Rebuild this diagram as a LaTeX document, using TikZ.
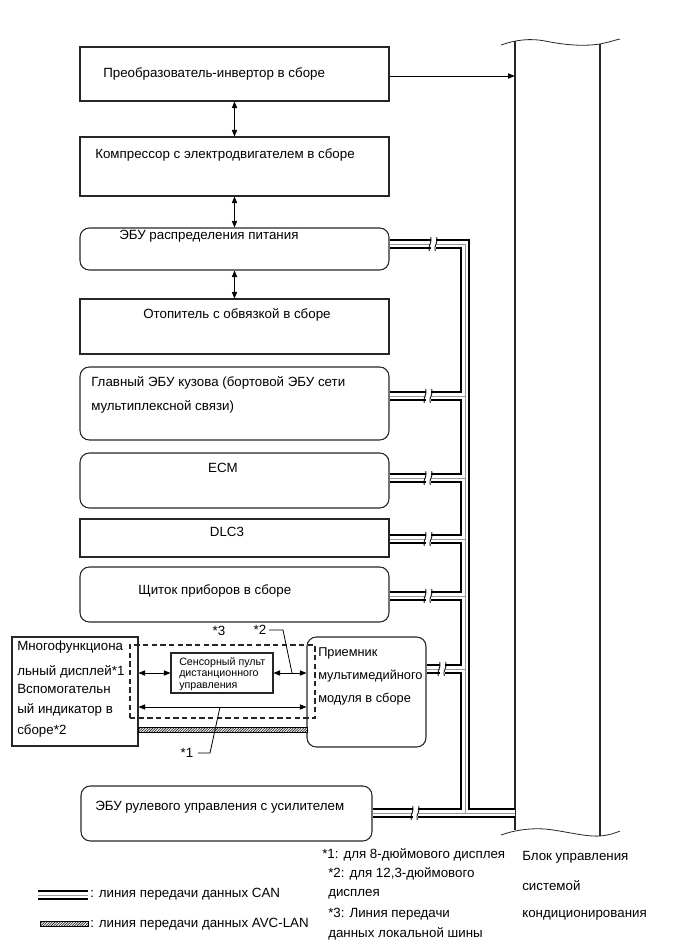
\documentclass[tikz,border=0pt]{standalone}
\usepackage{fontspec}
\setmainfont{Liberation Sans}
\usetikzlibrary{arrows.meta,fit}
\newcommand\canroutes[1]{%
  \draw[#1] (pdu.east |- bpdu) -- (bpdu) -- (bsteer);
  \draw[#1] (mbody.east |- bmbody) -- (bmbody);
  \draw[#1] (ecm.east |- becm) -- (becm);
  \draw[#1] (dlc.east |- bdlc) -- (bdlc);
  \draw[#1] (meter.east |- bmeter) -- (bmeter);
  \draw[#1] (recv.east |- brecv) -- (brecv);
  \draw[#1] (steer.east |- bsteer) -- (ac.west |- bsteer);
  \draw[#1] (lgA) -- (lgB);
}
\newcommand\avcbar[3]{%
  \begin{scope}
    \clip (#1,{#3-2.7}) rectangle (#2,{#3+2.7});
    \fill[white] (#1,{#3-2.7}) rectangle (#2,{#3+2.7});
    \foreach \k in {0,2.6,...,#2} {
      \draw[line width=0.55pt, black!80] ({#1+\k-3},{#3+3}) -- ({#1+\k+3},{#3-3});
    }
  \end{scope}
  \draw[line width=0.5pt] (#1,{#3-2.7}) rectangle (#2,{#3+2.7});
}
\begin{document}
\begin{tikzpicture}[x=0.75pt,y=-0.75pt,
  box/.style={draw=black!85, line width=0.8pt, inner sep=0pt},
  rbox/.style={box, rounded corners=7pt},
  txt/.style={font=\fontsize{10}{12}\selectfont, inner sep=0pt, anchor=west},
  ctxt/.style={font=\fontsize{10}{12}\selectfont, inner sep=0pt},
  smalltxt/.style={font=\fontsize{8}{8.6}\selectfont, inner sep=0pt, anchor=west, align=left},
  tiparrow/.style={line width=0.6pt, -{Triangle[length=5pt,width=4pt]}},
  dtiparrow/.style={line width=0.6pt, {Triangle[length=5pt,width=4pt]}-{Triangle[length=5pt,width=4pt]}},
  callout/.style={line width=0.6pt},
]
\useasboundingbox (0,0) rectangle (689,950);

% boxes
\node[box,  fit={(80,47)(389,101)}]   (inv) {};
\node[box,  fit={(80,137)(389,196)}]  (comp) {};
\node[rbox, fit={(80,228)(389,270)}]  (pdu) {};
\node[box,  fit={(80,299)(389,354)}]  (heat) {};
\node[rbox, fit={(80,367)(389,440)}]  (mbody) {};
\node[rbox, fit={(80,453)(389,508)}]  (ecm) {};
\node[box,  fit={(80,519)(389,557)}]  (dlc) {};
\node[rbox, fit={(80,567)(389,622)}]  (meter) {};
\node[box,  fit={(12,637)(138,746)}]  (disp) {};
\node[box,  fit={(171,653)(273,693)}] (touch) {};
\node[rbox, fit={(307,637)(426,747)}] (recv) {};
\node[rbox, fit={(81,786)(372,841)}]  (steer) {};
\node[inner sep=0pt, fit={(515,42)(600,835)}] (ac) {};
\node[draw=black!85, line width=0.8pt, dash pattern=on 4pt off 2.5pt, inner sep=0pt, fit={(130,645)(315,718)}] (lbus) {};

% A/C unit sides and wavy ends
\draw[line width=0.8pt, black!85] (515,41) -- (515,830);
\draw[line width=0.8pt, black!85] (600,44) -- (600,836);
\draw[line width=0.6pt, black!85] (501,45) .. controls (515,40) and (530,38) .. (545,41)
   .. controls (560,44) and (580,47) .. (600,44) .. controls (610,42) and (615,40) .. (620,39);
\draw[line width=0.6pt, black!85] (501,835) .. controls (515,830) and (530,828) .. (545,829)
   .. controls (565,831) and (585,837) .. (600,836) .. controls (610,835) and (615,833) .. (620,831);

% texts in boxes
\node[txt] (tinv) at (103,74) {Преобразователь-инвертор в сборе};
\node[txt] (tcomp) at (95,155) {Компрессор с электродвигателем в сборе};
\node[txt] (tpdu) at (119,236) {ЭБУ распределения питания};
\node[txt] (theat) at (143,315) {Отопитель с обвязкой в сборе};
\node[txt, anchor=north west, align=left, font=\fontsize{10}{18}\selectfont] (tmbody) at (91,376) {Главный ЭБУ кузова (бортовой ЭБУ сети\\мультиплексной связи)};
\node[ctxt] (tecm) at (223,468) {ECM};
\node[ctxt] (tdlc) at (227,532) {DLC3};
\node[txt] (tmeter) at (138,591) {Щиток приборов в сборе};
\node[txt, anchor=north west, align=left, font=\fontsize{10}{15}\selectfont] (tdisp) at (17,641)
  {Многофункциона\\[3.75pt]льный дисплей*1\\[-1.5pt]Вспомогательн\\ый индикатор в\\[0.75pt]сборе*2};
\node[smalltxt] (ttouch) at (179,674) {Сенсорный пульт\\дистанционного\\управления};
\node[txt, anchor=north west, align=left, font=\fontsize{9.6}{17.25}\selectfont] (trecv) at (318,647)
  {Приемник\\мультимедийного\\модуля в сборе};
\node[txt] (tsteer) at (95,807) {ЭБУ рулевого управления с усилителем};

% arrows between top boxes
\draw[dtiparrow] (inv.south) -- (comp.north);
\draw[dtiparrow] (comp.south) -- (pdu.north);
\draw[dtiparrow] (pdu.south) -- (heat.north);
\draw[tiparrow] ([yshift=-1.5pt]inv.east) -- ([yshift=-1.5pt]inv.east -| ac.west);

% bus junction coordinates
\coordinate (bpdu) at (465,244);
\coordinate (bmbody) at (465,396);
\coordinate (becm) at (465,478);
\coordinate (bdlc) at (465,539);
\coordinate (bmeter) at (465,596);
\coordinate (brecv) at (465,669);
\coordinate (bsteer) at (465,813);
\coordinate (lgA) at (38,895);
\coordinate (lgB) at (88,895);

% CAN lines
\canroutes{line width=7.8pt, black}
\canroutes{line width=4pt, white}
\canroutes{line width=0.5pt, black!40}

% breaks
\foreach \bx/\by in {433/244, 428/396, 428/478, 428/539, 428/596, 442/669, 415/813} {
  \fill[white] ({\bx-2.5},{\by-5.8}) rectangle ({\bx+2.5},{\by+5.8});
  \draw[line width=0.6pt] ({\bx-3.8},{\by+7}) .. controls ({\bx-5.5},{\by+1}) and ({\bx-0.5},{\by-1}) .. ({\bx-2.2},{\by-7});
  \draw[line width=0.6pt] ({\bx+2.2},{\by+7}) .. controls ({\bx+0.5},{\by+1}) and ({\bx+5.5},{\by-1}) .. ({\bx+3.8},{\by-7});
}

% local bus arrows
\coordinate (lb) at (0,707);
\draw[dtiparrow] (disp.east |- touch.west) -- (touch.west);
\draw[dtiparrow] (touch.east) -- (recv.west |- touch.east);
\draw[dtiparrow] (disp.east |- lb) -- (recv.west |- lb);

% AVC-LAN
\avcbar{138}{307}{730}
\avcbar{40}{88}{924}

% callouts
\node[ctxt] (s2) at (260,630) {*2};
\node[ctxt] (s3) at (219,631) {*3};
\node[ctxt] (s1) at (187,753) {*1};
\coordinate (c2a) at (269,630);
\coordinate (c2b) at (283,630);
\coordinate (c2c) at (292,673);
\draw[callout] (c2a) -- (c2b) -- (c2c);
\coordinate (c1a) at (198,753);
\coordinate (c1b) at (210,753);
\coordinate (c1c) at (220,707);
\draw[callout] (c1a) -- (c1b) -- (c1c);

% footnotes and legend
\node[txt] (f1) at (322,855) {*1: для 8-дюймового дисплея};
\node[txt] (f2) at (328,874) {*2: для 12,3-дюймового};
\node[txt] (f2b) at (328,894) {дисплея};
\node[txt] (f3) at (328,914) {*3: Линия передачи};
\node[txt] (f3b) at (328,934) {данных локальной шины};
\node[txt] (acl1) at (522,857) {Блок управления};
\node[txt] (acl2) at (522,886) {системой};
\node[txt] (acl3) at (522,915) {кондиционирования};
\node[txt] (lg1) at (90,894) {: линия передачи данных CAN};
\node[txt] (lg2) at (90,924) {: линия передачи данных AVC-LAN};
\end{tikzpicture}
\end{document}
